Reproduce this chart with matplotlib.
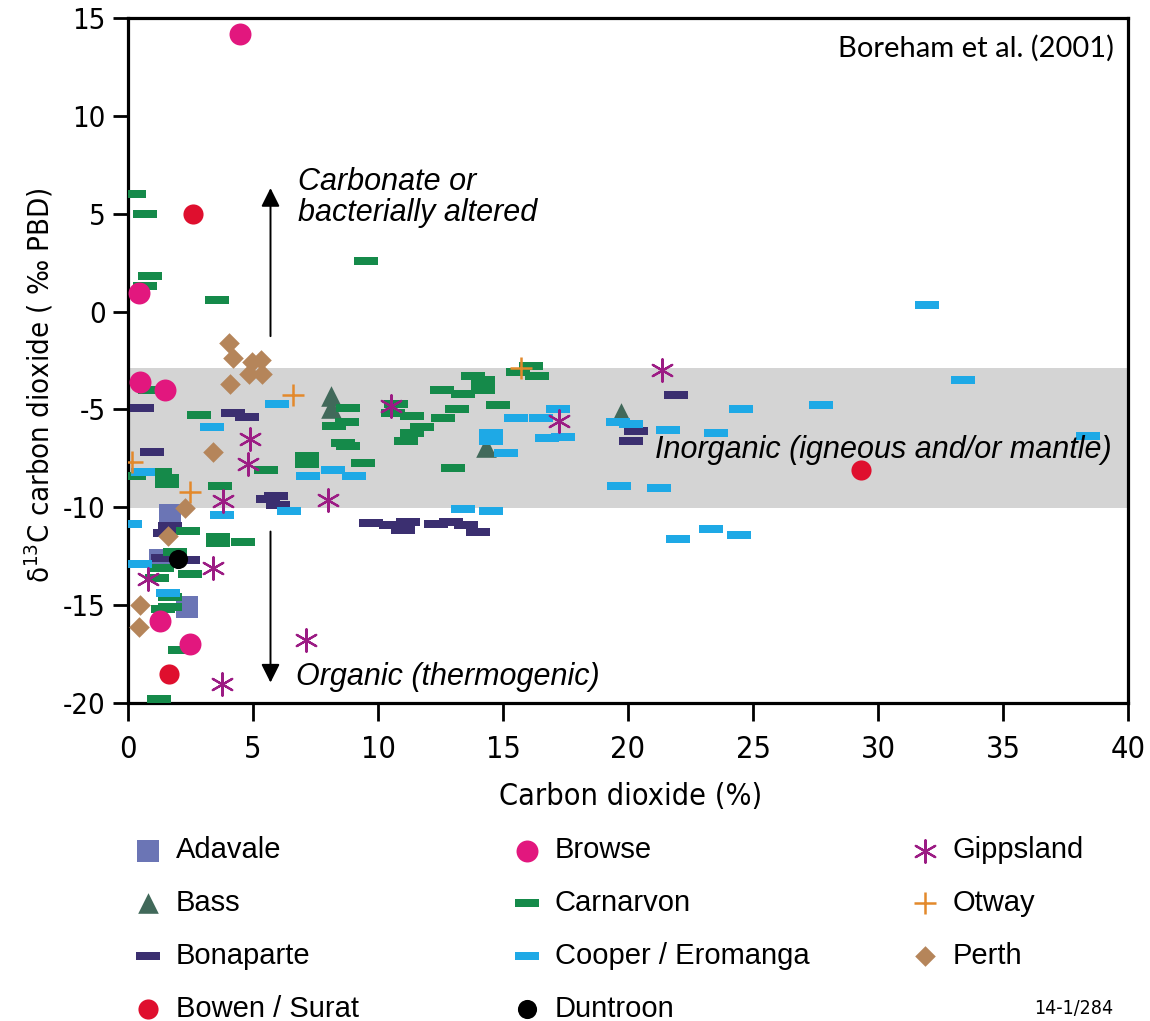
import matplotlib.pyplot as plt
import numpy as np
from matplotlib.path import Path

plt.switch_backend('Agg')

# ---- data (CO2 %, d13C per mil) ----
adavale_x = [1.7, 1.3, 2.35]
adavale_y = [-10.4, -12.7, -15.1]

bass_x = [8.1, 8.1, 14.3, 19.7]
bass_y = [-4.3, -4.95, -6.9, -5.2]

bonaparte_x = [0.55, 0.95, 4.2, 4.75, 1.7, 1.5, 1.4, 2.4, 5.9, 6.0, 5.6,
               21.9, 20.3, 20.1, 9.7, 10.5, 11.0, 11.2, 12.3, 12.9, 13.5, 14.0]
bonaparte_y = [-4.95, -7.2, -5.2, -5.4, -10.95, -11.3, -12.6, -12.7, -9.45, -9.9, -9.6,
               -4.25, -6.1, -6.6, -10.8, -10.9, -11.15, -10.75, -10.85, -10.75, -10.9, -11.25]

bowen_x = [2.6, 1.65, 29.3]
bowen_y = [5.0, -18.5, -8.1]

browse_x = [4.5, 0.45, 0.5, 1.5, 1.3, 2.5]
browse_y = [14.2, 0.95, -3.6, -4.0, -15.8, -17.0]

carnarvon_x = [0.25, 0.7, 0.9, 0.7, 3.55, 9.5,
               0.9, 2.85, 0.25, 1.3, 1.55, 1.55, 3.7, 5.5, 7.15, 7.15,
               8.8, 8.75, 8.25, 8.6, 8.8, 9.4,
               10.7, 10.6, 11.35, 11.75, 11.35, 11.1, 12.6, 12.55, 13.4, 13.8,
               14.2, 14.2, 14.2, 13.15, 14.8, 13.0, 15.6, 16.1, 16.35,
               2.4, 3.6, 4.6, 3.6, 1.9, 1.35, 2.5, 1.15, 1.7, 1.7, 1.4, 2.1, 1.25]
carnarvon_y = [6.0, 5.0, 1.8, 1.3, 0.6, 2.6,
               -4.0, -5.3, -8.4, -8.2, -8.5, -8.8, -8.9, -8.1, -7.4, -7.8,
               -4.95, -5.65, -5.85, -6.7, -6.85, -7.75,
               -4.7, -5.2, -5.35, -5.9, -6.2, -6.6, -5.45, -4.0, -4.2, -3.3,
               -3.5, -3.7, -4.0, -5.0, -4.8, -8.0, -3.1, -2.8, -3.3,
               -11.2, -11.5, -11.8, -11.85, -12.3, -13.1, -13.4, -13.6, -14.6, -15.1, -15.2, -17.3, -19.8]

cooper_x = [0.1, 0.5, 0.6, 1.6, 3.35, 3.75, 5.95, 6.45, 7.2, 8.2, 9.05,
            14.5, 14.5, 15.1, 13.4, 14.5, 15.5, 16.5, 17.2, 16.75, 17.4,
            19.6, 20.1, 21.6, 23.5, 19.65, 21.25, 22.0, 23.3, 24.45, 24.5,
            27.7, 31.95, 33.4, 38.4]
cooper_y = [-10.85, -12.9, -8.2, -14.4, -5.9, -10.4, -4.7, -10.2, -8.4, -8.1, -8.4,
            -6.2, -6.6, -7.25, -10.1, -10.2, -5.45, -5.45, -5.0, -6.45, -6.4,
            -5.65, -5.75, -6.05, -6.2, -8.9, -9.0, -11.6, -11.1, -11.4, -5.0,
            -4.8, 0.35, -3.5, -6.35]

duntroon_x = [2.0]
duntroon_y = [-12.65]

gippsland_x = [0.8, 3.4, 3.75, 4.9, 4.8, 3.8, 8.0, 10.5, 7.1, 17.25, 21.35]
gippsland_y = [-13.65, -13.1, -19.05, -6.5, -7.8, -9.7, -9.65, -4.85, -16.8, -5.6, -3.0]

otway_x = [0.15, 2.5, 6.6, 15.7]
otway_y = [-7.7, -9.2, -4.25, -2.9]

perth_x = [4.05, 4.2, 4.95, 5.3, 4.85, 5.35, 4.1, 3.4, 2.3, 1.6, 0.5, 0.45]
perth_y = [-1.6, -2.35, -2.6, -2.5, -3.2, -3.2, -3.7, -7.2, -10.05, -11.45, -15.0, -16.1]

band_top, band_bottom = -2.9, -10.05

plt.rcParams['font.family'] = ['Liberation Sans', 'DejaVu Sans']
plt.rcParams['axes.unicode_minus'] = False
cond = dict(family='DejaVu Sans', stretch='condensed')

bar = Path([(-1, -0.32), (1, -0.32), (1, 0.32), (-1, 0.32), (-1, -0.32)],
           [Path.MOVETO, Path.LINETO, Path.LINETO, Path.LINETO, Path.CLOSEPOLY])

fig = plt.figure(figsize=(11.5, 10.21), dpi=100)
ax = fig.add_axes([0.1113, 0.3115, 0.8696, 0.6709])

ax.axhspan(band_bottom, band_top, color='#d4d4d4', lw=0, zorder=0)

h = {}
h['Adavale'] = ax.scatter(adavale_x, adavale_y, marker='s', s=250, color='#6b75b5', lw=0, zorder=3)
h['Bass'] = ax.scatter(bass_x, bass_y, marker='^', s=220, color='#41695a', lw=0, zorder=3)
h['Bonaparte'] = ax.scatter(bonaparte_x, bonaparte_y, marker=bar, s=280, color='#3b2f70', lw=0, zorder=3)
h['Carnarvon'] = ax.scatter(carnarvon_x, carnarvon_y, marker=bar, s=280, color='#158a4a', lw=0, zorder=3)
h['Cooper / Eromanga'] = ax.scatter(cooper_x, cooper_y, marker=bar, s=280, color='#1ea9e6', lw=0, zorder=3)
h['Bowen / Surat'] = ax.scatter(bowen_x, bowen_y, marker='o', s=210, color='#df0f2e', lw=0, zorder=4)
h['Browse'] = ax.scatter(browse_x, browse_y, marker='o', s=250, color='#e2177e', lw=0, zorder=4)
h['Duntroon'] = ax.scatter(duntroon_x, duntroon_y, marker='o', s=190, color='black', lw=0, zorder=4)
h['Gippsland'] = ax.scatter(gippsland_x, gippsland_y, marker=(6, 2, 0), s=260, color='#9c1c84', lw=1.6, zorder=4)
h['Otway'] = ax.scatter(otway_x, otway_y, marker='+', s=230, color='#e3892b', lw=1.8, zorder=4)
h['Perth'] = ax.scatter(perth_x, perth_y, marker='D', s=110, color='#b5855a', lw=0, zorder=4)

ax.set_xlim(0, 40)
ax.set_ylim(-20, 15)
ax.set_xticks(np.arange(0, 41, 5))
ax.set_yticks(np.arange(-20, 16, 5))
ax.tick_params(axis='x', length=13, width=2, pad=10, labelsize=22)
ax.tick_params(axis='y', length=11, width=2, pad=5, labelsize=21)
for lab in ax.get_xticklabels() + ax.get_yticklabels():
    lab.set_family(cond['family'])
    lab.set_stretch(cond['stretch'])
for side in ['left', 'bottom', 'top', 'right']:
    ax.spines[side].set_linewidth(2.3)

ax.set_xlabel('Carbon dioxide (%)', fontsize=22, **cond)
ax.xaxis.set_label_coords(0.503, -0.115)
ax.set_ylabel(r'$\mathregular{\delta^{13}}$C carbon dioxide ( ‰ PBD)', fontsize=21, **cond)
ax.yaxis.set_label_coords(-0.072, 0.464)

# arrows and annotations
ax.annotate('', xy=(5.7, 6.45), xytext=(5.7, -1.4),
            arrowprops=dict(arrowstyle='-|>', color='black', lw=1.4, mutation_scale=28), zorder=6)
ax.annotate('', xy=(5.7, -19.1), xytext=(5.7, -11.1),
            arrowprops=dict(arrowstyle='-|>', color='black', lw=1.4, mutation_scale=28), zorder=6)
ax.text(6.8, 5.83, 'Carbonate or\nbacterially altered', fontsize=22, style='italic',
        va='center', ha='left', linespacing=1.05, zorder=6)
ax.text(6.72, -18.65, 'Organic (thermogenic)', fontsize=22, style='italic',
        va='center', ha='left', zorder=6)
ax.text(21.08, -7.05, 'Inorganic (igneous and/or mantle)', fontsize=22, style='italic',
        va='center', ha='left', zorder=6)
ax.text(39.45, 13.45, 'Boreham et al. (2001)', fontsize=21, family=['Lato', 'DejaVu Sans'],
        va='center', ha='right', zorder=6)

# legend in three columns
columns = [['Adavale', 'Bass', 'Bonaparte', 'Bowen / Surat'],
           ['Browse', 'Carnarvon', 'Cooper / Eromanga', 'Duntroon'],
           ['Gippsland', 'Otway', 'Perth']]
col_x = [0.116, 0.4456, 0.7917]
for names, cx in zip(columns, col_x):
    fig.legend([h[n] for n in names], names, loc='upper left', bbox_to_anchor=(cx, 0.181),
               frameon=False, fontsize=21, handlelength=1.0, handletextpad=0.45,
               labelspacing=0.85, borderpad=0, borderaxespad=0, scatterpoints=1)

fig.text(0.968, 0.0127, '14-1/284', fontsize=14, ha='right', va='center', **cond)

fig.savefig('out.png', dpi=100)
plt.close(fig)
